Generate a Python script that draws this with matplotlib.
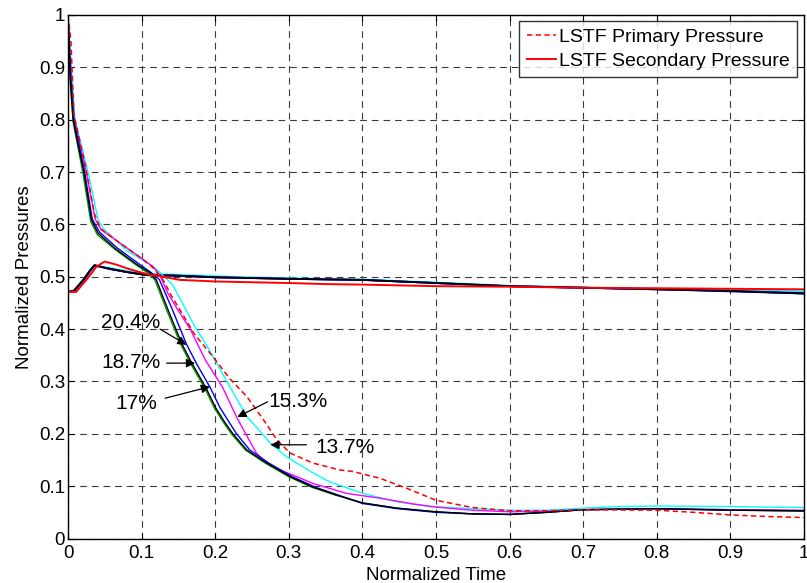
import matplotlib
matplotlib.use("Agg")
import matplotlib.pyplot as plt

plt.rcParams['font.family'] = ['Liberation Sans', 'DejaVu Sans']

# ---------------- data ----------------
# Primary pressures
t_red_p = [0, 0.004, 0.008, 0.024, 0.036, 0.044, 0.07, 0.1, 0.115, 0.13, 0.14, 0.155, 0.172,
           0.197, 0.22, 0.243, 0.266, 0.284, 0.302, 0.333, 0.369, 0.387, 0.424, 0.46, 0.488,
           0.5, 0.55, 0.6, 0.65, 0.7, 0.8, 0.85, 0.9, 0.95, 1.0]
p_red_p = [1.0, 0.95, 0.81, 0.71, 0.62, 0.592, 0.565, 0.535, 0.518, 0.492, 0.465, 0.43, 0.39,
           0.347, 0.305, 0.271, 0.226, 0.188, 0.163, 0.144, 0.131, 0.128, 0.115, 0.096, 0.080,
           0.073, 0.059, 0.053, 0.053, 0.055, 0.054, 0.050, 0.045, 0.042, 0.040]

t_cyan_p = [0, 0.005, 0.0095, 0.0276, 0.041, 0.048, 0.08, 0.107, 0.116, 0.125, 0.142, 0.173,
            0.19, 0.212, 0.228, 0.243, 0.264, 0.275, 0.297, 0.333, 0.356, 0.401, 0.447, 0.492,
            0.55, 0.6, 0.65, 0.7, 0.75, 0.8, 0.9, 1.0]
p_cyan_p = [1.0, 0.89, 0.80, 0.698, 0.608, 0.592, 0.55, 0.527, 0.519, 0.508, 0.485, 0.403,
            0.365, 0.31, 0.27, 0.233, 0.2, 0.182, 0.156, 0.125, 0.108, 0.086, 0.070, 0.061,
            0.057, 0.054, 0.054, 0.058, 0.061, 0.062, 0.061, 0.059]

t_mag_p = [0, 0.004, 0.008, 0.024, 0.037, 0.045, 0.07, 0.1, 0.115, 0.125, 0.135, 0.15, 0.166,
           0.187, 0.21, 0.229, 0.243, 0.256, 0.270, 0.288, 0.311, 0.333, 0.379, 0.424, 0.469,
           0.5, 0.55, 0.6, 0.65, 0.7, 0.8, 0.9, 1.0]
p_mag_p = [1.0, 0.89, 0.805, 0.705, 0.61, 0.59, 0.565, 0.535, 0.52, 0.503, 0.47, 0.435, 0.40,
           0.34, 0.289, 0.232, 0.196, 0.163, 0.144, 0.131, 0.118, 0.105, 0.086, 0.077, 0.066,
           0.060, 0.054, 0.051, 0.052, 0.055, 0.057, 0.055, 0.054]

t_blue_p = [0, 0.004, 0.008, 0.022, 0.033, 0.043, 0.066, 0.096, 0.113, 0.124, 0.141, 0.161,
            0.175, 0.193, 0.2065, 0.219, 0.229, 0.247, 0.273, 0.305, 0.336, 0.367, 0.40, 0.447,
            0.5, 0.55, 0.6, 0.65, 0.7, 0.8, 0.9, 1.0]
p_blue_p = [1.0, 0.88, 0.80, 0.705, 0.61, 0.585, 0.556, 0.525, 0.508, 0.495, 0.44, 0.371,
            0.333, 0.289, 0.25, 0.222, 0.20, 0.169, 0.144, 0.118, 0.098, 0.083, 0.067, 0.057,
            0.050, 0.047, 0.046, 0.050, 0.055, 0.057, 0.054, 0.053]

t_green_p = [0, 0.003, 0.007, 0.02, 0.031, 0.04, 0.064, 0.094, 0.11, 0.118, 0.133, 0.153,
             0.167, 0.185, 0.1985, 0.211, 0.222, 0.241, 0.268, 0.3, 0.331, 0.363, 0.40, 0.447,
             0.5, 0.55, 0.6, 0.65, 0.7, 0.8, 0.9, 1.0]
p_green_p = [1.0, 0.87, 0.795, 0.70, 0.605, 0.58, 0.552, 0.521, 0.506, 0.494, 0.44, 0.371,
             0.333, 0.289, 0.25, 0.222, 0.20, 0.169, 0.144, 0.118, 0.098, 0.083, 0.068, 0.058,
             0.051, 0.047, 0.046, 0.050, 0.055, 0.057, 0.055, 0.052]

t_black_p = [0, 0.003, 0.007, 0.014, 0.021, 0.032, 0.041, 0.064, 0.094, 0.111, 0.12, 0.135,
             0.155, 0.169, 0.187, 0.2005, 0.213, 0.224, 0.243, 0.27, 0.302, 0.333, 0.365, 0.40,
             0.447, 0.5, 0.55, 0.6, 0.65, 0.7, 0.8, 0.9, 1.0]
p_black_p = [1.0, 0.88, 0.80, 0.75, 0.704, 0.608, 0.583, 0.554, 0.523, 0.508, 0.494, 0.44,
             0.371, 0.333, 0.289, 0.25, 0.222, 0.20, 0.169, 0.144, 0.118, 0.098, 0.083, 0.068,
             0.058, 0.051, 0.047, 0.046, 0.050, 0.055, 0.057, 0.054, 0.053]

# Secondary pressures
t_red_s = [0, 0.011, 0.025, 0.039, 0.050, 0.066, 0.080, 0.102, 0.111, 0.125, 0.152, 0.2, 0.3,
           0.35, 0.4, 0.5, 0.6, 0.7, 0.8, 0.9, 1.0]
p_red_s = [0.471, 0.471, 0.494, 0.52, 0.529, 0.523, 0.516, 0.507, 0.504, 0.501, 0.494, 0.491,
           0.488, 0.486, 0.485, 0.482, 0.481, 0.479, 0.478, 0.477, 0.476]

t_sec = [0, 0.008, 0.021, 0.030, 0.036, 0.057, 0.080, 0.107, 0.12, 0.15, 0.2, 0.3, 0.4, 0.5,
         0.6, 0.7, 0.8, 0.9, 1.0]
p_cyan_s = [0.471, 0.471, 0.49, 0.508, 0.520, 0.517, 0.511, 0.506, 0.505, 0.504, 0.501, 0.497,
            0.495, 0.489, 0.483, 0.480, 0.477, 0.475, 0.472]
p_mag_s = [0.471, 0.472, 0.492, 0.510, 0.521, 0.515, 0.509, 0.504, 0.503, 0.502, 0.499, 0.496,
           0.494, 0.488, 0.482, 0.479, 0.476, 0.473, 0.469]
p_blue_s = [0.471, 0.473, 0.494, 0.512, 0.522, 0.515, 0.509, 0.503, 0.503, 0.502, 0.499, 0.496,
            0.494, 0.488, 0.482, 0.479, 0.476, 0.472, 0.468]
p_green_s = [0.471, 0.474, 0.495, 0.513, 0.522, 0.515, 0.509, 0.503, 0.503, 0.502, 0.499, 0.496,
             0.494, 0.488, 0.482, 0.479, 0.476, 0.473, 0.468]
p_black_s = [0.471, 0.473, 0.494, 0.512, 0.522, 0.515, 0.509, 0.503, 0.503, 0.502, 0.499, 0.496,
             0.494, 0.488, 0.482, 0.479, 0.476, 0.473, 0.468]

ticks = [0, 0.1, 0.2, 0.3, 0.4, 0.5, 0.6, 0.7, 0.8, 0.9, 1]
tick_labels = ['0', '0.1', '0.2', '0.3', '0.4', '0.5', '0.6', '0.7', '0.8', '0.9', '1']

ann_labels = ['20.4%', '18.7%', '17%', '15.3%', '13.7%']
ann_text_xy = [(0.085, 0.413), (0.086, 0.336), (0.093, 0.257), (0.313, 0.261), (0.376, 0.173)]
ann_head_xy = [(0.161, 0.370), (0.1726, 0.335), (0.193, 0.290), (0.230, 0.232), (0.275, 0.179)]
ann_tail_xy = [(0.125, 0.400), (0.134, 0.335), (0.132, 0.268), (0.271, 0.261), (0.324, 0.179)]

# ---------------- figure ----------------
fig = plt.figure(figsize=(8.07, 5.83), dpi=100)
ax = fig.add_axes([68 / 807, 1 - 538.5 / 583, 736 / 807, 523.5 / 583])

GREEN = '#00a000'
prim_lw = 1.0
sec_lw = 1.3

ax.plot(t_sec, p_green_s, color=GREEN, lw=sec_lw)
ax.plot(t_sec, p_cyan_s, color='cyan', lw=sec_lw)
ax.plot(t_sec, p_mag_s, color='magenta', lw=sec_lw)
ax.plot(t_sec, p_blue_s, color='blue', lw=sec_lw)
ax.plot(t_sec, p_black_s, color='black', lw=sec_lw)

ax.plot(t_green_p, p_green_p, color=GREEN, lw=prim_lw)
ax.plot(t_cyan_p, p_cyan_p, color='cyan', lw=prim_lw)
ax.plot(t_mag_p, p_mag_p, color='magenta', lw=prim_lw)
ax.plot(t_blue_p, p_blue_p, color='blue', lw=prim_lw)
ax.plot(t_black_p, p_black_p, color='black', lw=prim_lw)

l1, = ax.plot(t_red_p, p_red_p, color='red', lw=1.1, linestyle=(0, (3.5, 2.2)),
              label='LSTF Primary Pressure')
l2, = ax.plot(t_red_s, p_red_s, color='red', lw=1.4, label='LSTF Secondary Pressure')

ax.set_xlim(0, 1)
ax.set_ylim(0, 1)
ax.set_xticks(ticks)
ax.set_yticks(ticks)
ax.set_xticklabels(tick_labels)
ax.set_yticklabels(tick_labels)
ax.tick_params(direction='in', length=4, width=0.8, top=True, right=True,
               labelsize=13.5, colors='black')
ax.tick_params(axis='x', pad=5)
ax.tick_params(axis='y', pad=2)
ax.grid(True, color='#3a3a3a', linestyle=(0, (6, 4.5)), lw=0.8)
ax.set_axisbelow(True)
for sp in ax.spines.values():
    sp.set_linewidth(1.0)
    sp.set_color('black')

ax.set_xlabel('Normalized Time', fontsize=13.5, labelpad=3)
ax.set_ylabel('Normalized Pressures', fontsize=13.5, labelpad=4)

leg = ax.legend(handles=[l1, l2], loc='upper right', bbox_to_anchor=(0.991, 0.989),
                borderaxespad=0, fontsize=14, frameon=True, fancybox=False,
                edgecolor='black', handlelength=1.5, handletextpad=0.15,
                borderpad=0.4, labelspacing=0.3)
leg.get_frame().set_linewidth(1.0)

for lab, txy, hxy, sxy in zip(ann_labels, ann_text_xy, ann_head_xy, ann_tail_xy):
    ax.text(txy[0], txy[1], lab, fontsize=15, ha='center', va='center')
    ax.annotate('', xy=hxy, xytext=sxy,
                arrowprops=dict(arrowstyle='-|>', color='black', lw=0.9,
                                mutation_scale=13, shrinkA=0, shrinkB=0))

fig.savefig('out.png', dpi=100)
